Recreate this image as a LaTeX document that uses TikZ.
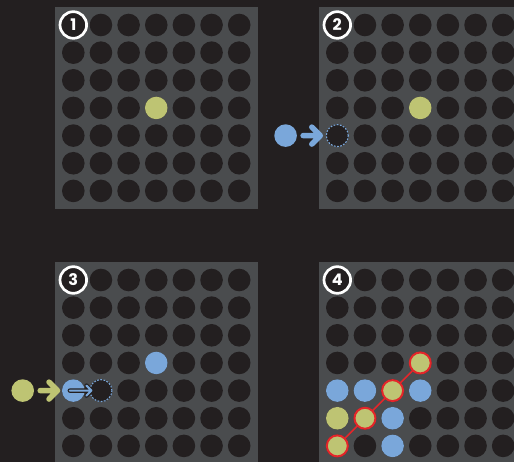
\documentclass[tikz,border=0pt]{standalone}
\usepackage{fontspec}
\newfontfamily\numfont{Poppins}
\usetikzlibrary{calc}
\definecolor{bgcol}{HTML}{231F20}
\definecolor{boardcol}{HTML}{4A4C4E}
\definecolor{holecol}{HTML}{231F20}
\definecolor{ylw}{HTML}{BEC473}
\definecolor{blu}{HTML}{7AA7DA}
\definecolor{winred}{HTML}{E4262A}
\newcommand\drawboard[2]{%
  \begin{scope}[shift={#2}]
    \fill[boardcol] (0,0) rectangle (203,202);
    \foreach \c in {1,...,7}{\foreach \r in {1,...,7}{%
      \node[holestyle] (#1-\c-\r) at ({18.3+(\c-1)*27.65},{18+(\r-1)*27.65}) {};}}
  \end{scope}}
\newcommand\numbadge[2]{%
  \node[badge] (#1-num) at (#1-1-1) {#2};}
\begin{document}
\begin{tikzpicture}[x=1pt,y=-1pt,
  holestyle/.style={circle,fill=holecol,minimum size=22.6pt,inner sep=0pt,outer sep=0pt},
  yball/.style={circle,fill=ylw,minimum size=22.6pt,inner sep=0pt,outer sep=0pt},
  bball/.style={circle,fill=blu,minimum size=22.6pt,inner sep=0pt,outer sep=0pt},
  winball/.style={yball,draw=winred,line width=2pt,minimum size=21pt},
  dashhole/.style={circle,fill=holecol,draw=blu,line width=1.1pt,dash pattern=on 1.8pt off 1.4pt,minimum size=22pt,inner sep=0pt},
  badge/.style={circle,fill=holecol,draw=white,line width=2.7pt,minimum size=26.6pt,inner sep=0pt,text=white,font=\numfont\bfseries\fontsize{16}{16}\selectfont},
  bigarrow/.style={line width=5.5pt,line cap=round,line join=round},
  winline/.style={draw=winred,line width=1.6pt}
]
\useasboundingbox (0,0) rectangle (514,462);
\fill[bgcol] (0,0) rectangle (514,462);

% boards
\drawboard{p1}{(55,7)}
\drawboard{p2}{(319,7)}
\drawboard{p3}{(55,262)}
\drawboard{p4}{(319,262)}
\numbadge{p1}{1}
\numbadge{p2}{2}
\numbadge{p3}{3}
\numbadge{p4}{4}

% panel 1
\node[yball] (p1y) at (p1-4-4) {};

% panel 2
\node[yball] (p2y) at (p2-4-4) {};
\node[dashhole] (p2d) at (p2-1-5) {};
\node[bball] (p2in) at ($(p2-1-5)+(-51.7,0)$) {};
\coordinate (p2tip) at ($(p2d)+(-17,0)$);
\draw[bigarrow,blu] ($(p2in)+(17.5,0)$) -- (p2tip) ($(p2tip)+(-8.5,-8.5)$) -- (p2tip) -- ++(-8.5,8.5);

% panel 3
\node[bball] (p3b) at (p3-4-4) {};
\node[bball] (p3b1) at (p3-1-5) {};
\node[dashhole] (p3d) at (p3-2-5) {};
\node[yball] (p3in) at ($(p3-1-5)+(-50.6,0)$) {};
\coordinate (p3tip) at ($(p3b1)+(-15.8,0)$);
\draw[bigarrow,ylw] ($(p3in)+(17.5,0)$) -- (p3tip) ($(p3tip)+(-8.5,-8.5)$) -- (p3tip) -- ++(-8.5,8.5);
\coordinate (p3stip) at ($(p3d)+(-9.5,0)$);
\draw[line width=4.4pt,holecol,line cap=round,line join=round] ($(p3b1)+(-3.5,0)$) -- (p3stip) ($(p3stip)+(-5,-5)$) -- (p3stip) -- ++(-5,5);
\draw[line width=2pt,blu,line cap=round,line join=round] ($(p3b1)+(-3.5,0)$) -- (p3stip) ($(p3stip)+(-5,-5)$) -- (p3stip) -- ++(-5,5);

% panel 4
\draw[winline] (p4-1-7) -- (p4-4-4);
\node[bball] at (p4-1-5) {};
\node[bball] at (p4-2-5) {};
\node[bball] at (p4-4-5) {};
\node[bball] at (p4-3-6) {};
\node[bball] at (p4-3-7) {};
\node[yball] at (p4-1-6) {};
\node[winball] (w1) at (p4-1-7) {};
\node[winball] (w2) at (p4-2-6) {};
\node[winball] (w3) at (p4-3-5) {};
\node[winball] (w4) at (p4-4-4) {};
\end{tikzpicture}
\end{document}
